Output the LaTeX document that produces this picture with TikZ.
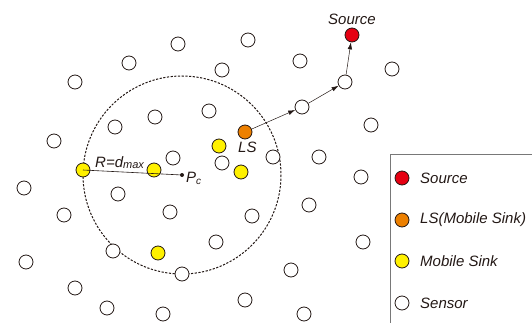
\documentclass[tikz,border=0pt]{standalone}
\usepackage{fontspec}
\setmainfont{Liberation Sans}
\usetikzlibrary{arrows.meta}
\definecolor{srcred}{RGB}{230,0,18}
\definecolor{lsorange}{RGB}{237,128,0}
\definecolor{msyellow}{RGB}{255,241,0}
\definecolor{edge}{RGB}{35,24,21}
\definecolor{boxgray}{RGB}{120,120,120}
\tikzset{
  sensor/.style={circle,draw=edge,line width=0.8pt,fill=white,minimum size=14pt,inner sep=0pt},
  source/.style={sensor,fill=srcred},
  lsnode/.style={sensor,fill=lsorange},
  mobile/.style={sensor,fill=msyellow},
  lbl/.style={font=\fontsize{15}{17}\selectfont\itshape,text=edge,inner sep=0pt},
  hop/.style={draw=edge,line width=0.5pt,-{Latex[length=7pt,width=4.5pt]}},
}
\begin{document}
\begin{tikzpicture}[x=1pt,y=-1pt]
\useasboundingbox (0,0) rectangle (532,323);
\clip (0,0) rectangle (532,323);
% dashed range circle
\coordinate (pc) at (182,175);
\draw[edge,line width=1pt,dash pattern=on 2.2pt off 1.5pt] (pc) circle (99);
% sensors
\foreach \n/\x/\y in {
 s1/178/44, s2/248/40, s3/129/63, s4/222/70, s5/300/61, s6/392/69,
 s7/75/82, s8/345/82, s9/302/107, s10/209/111, s11/155/117, s12/115/127,
 s13/371/125, s14/54/141, s15/173/158, s16/222/163, s17/273/157, s18/319/157,
 s19/361/177, s20/24/188, s21/118/194, s22/64/215, s23/170/212, s24/252/216,
 s25/309/205, s26/216/242, s27/363/242, s28/113/251, s29/26/262, s30/182/274,
 s31/291/270, s32/75/288, s33/245/300, s34/107/308, s35/163/314, s36/304/314}
 {\node[sensor] (\n) at (\x,\y) {};}
% mobile sinks
\node[mobile] (m1) at (83,170) {};
\node[mobile] (m2) at (154,170) {};
\node[mobile] (m3) at (219,146) {};
\node[mobile] (m4) at (241,172) {};
\node[mobile] (m5) at (158,253) {};
% LS and source
\node[lsnode] (ls) at (245,132) {};
\node[source] (src) at (352,35) {};
% radius line
\draw[edge,line width=0.6pt] (m1.center) -- (pc);
\fill[edge] (pc) circle (2pt);
% hops
\draw[hop] (ls) -- (s9);
\draw[hop] (s9) -- (s8);
\draw[hop] (s8) -- (src);
% labels
\node[lbl] (tsrc) at (352,19) {Source};
\node[lbl,anchor=west] (tls) at (238,147) {LS};
\node[lbl,anchor=west] (tpc) at (186,178) {P\raisebox{-0.25ex}{\fontsize{10}{11}\selectfont c}};
\node[lbl,anchor=west] (tr) at (95,163) {R=d\raisebox{-0.1ex}{\fontsize{11}{12}\selectfont max}};
% legend
\draw[boxgray,line width=1pt] (390,155) rectangle (545,340);
\node[source] (lg1) at (402,178) {};
\node[lsnode] (lg2) at (402,220) {};
\node[mobile] (lg3) at (402,261) {};
\node[sensor] (lg4) at (402,303) {};
\node[lbl,anchor=west] (lt1) at (420,178) {Source};
\node[lbl,anchor=west] (lt2) at (420,220) {LS(Mobile Sink)};
\node[lbl,anchor=west] (lt3) at (420,261) {Mobile Sink};
\node[lbl,anchor=west] (lt4) at (420,303) {Sensor};
\end{tikzpicture}
\end{document}
